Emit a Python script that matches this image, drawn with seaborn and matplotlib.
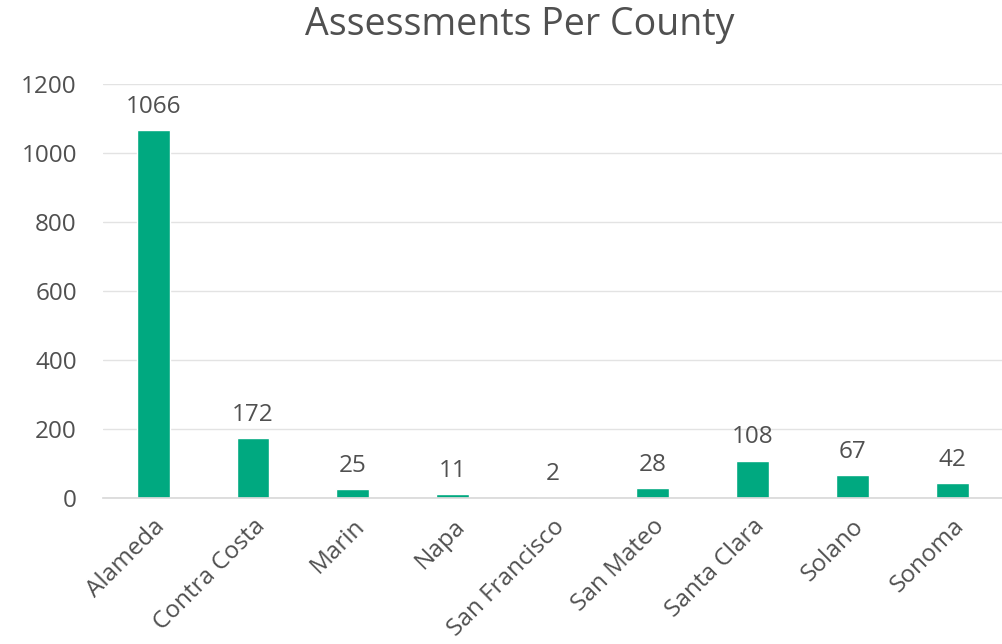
import numpy as np
import pandas as pd
import matplotlib
matplotlib.use("Agg")
import matplotlib.pyplot as plt
import seaborn as sns

counties = ["Alameda", "Contra Costa", "Marin", "Napa", "San Francisco",
            "San Mateo", "Santa Clara", "Solano", "Sonoma"]
assessments = [1066, 172, 25, 11, 2, 28, 108, 67, 42]

bar_color = "#00A980"
text_color = "#505050"

sns.set_theme(style="white")
plt.rcParams["font.family"] = ["Open Sans", "DejaVu Sans"]

df = pd.DataFrame({"county": counties, "assessments": assessments})

fig = plt.figure(figsize=(10.02, 6.44), dpi=100)
ax = fig.add_axes([0.103, 0.227, 0.897, 0.643])

sns.barplot(data=df, x="county", y="assessments", color=bar_color,
            width=0.33, saturation=1, ax=ax)

for c in ax.containers:
    ax.bar_label(c, padding=8, fontsize=17.5, color=text_color)

ax.set_ylim(0, 1200)
ax.set_yticks(np.arange(0, 1201, 200))
ax.yaxis.grid(True, color="#E3E3E3", linewidth=1)
ax.set_axisbelow(True)
for s in ["top", "right", "left"]:
    ax.spines[s].set_visible(False)
ax.spines["bottom"].set_color("#D9D9D9")
ax.set_xlim(-0.5, len(counties) - 0.5)

ax.set_xlabel("")
ax.set_ylabel("")
ax.tick_params(axis="y", labelsize=17.5, labelcolor=text_color, length=0, pad=19)
ax.tick_params(axis="x", labelsize=17.5, labelcolor=text_color, length=0, pad=12)
plt.setp(ax.get_xticklabels(), rotation=45, ha="right", rotation_mode="anchor")

fig.text(0.519, 0.99, "Assessments Per County", fontsize=27, color=text_color,
         ha="center", va="top")

fig.savefig("out.png", dpi=100)
